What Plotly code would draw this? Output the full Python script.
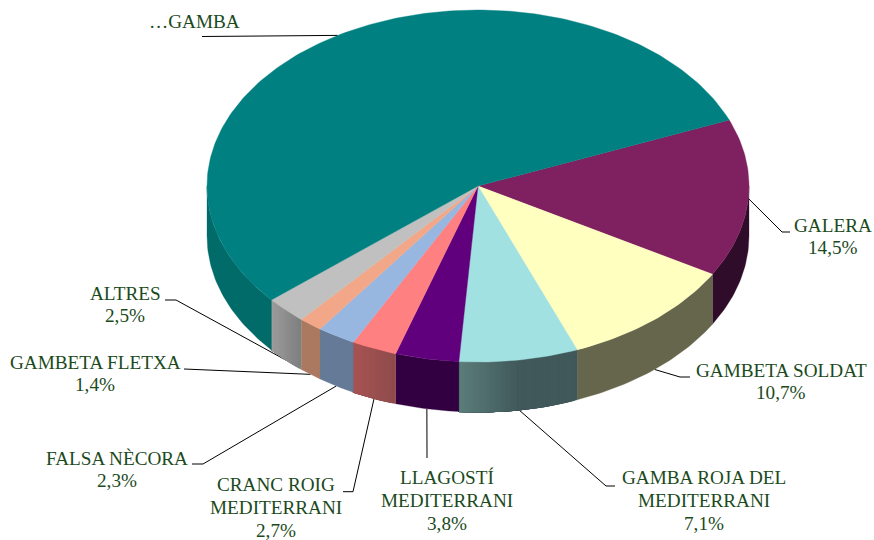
import math
import plotly.graph_objects as go

categories = [["GALERA"], ["GAMBETA SOLDAT"], ["GAMBA ROJA DEL", "MEDITERRANI"], ["LLAGOSTÍ", "MEDITERRANI"],
              ["CRANC ROIG", "MEDITERRANI"], ["FALSA NÈCORA"], ["GAMBETA FLETXA"], ["ALTRES"], ["…GAMBA"]]
values = [14.5, 10.7, 7.1, 3.8, 2.7, 2.3, 1.4, 2.5, 55.2]
value_labels = ["14,5%", "10,7%", "7,1%", "3,8%", "2,7%", "2,3%", "1,4%", "2,5%", ""]

top_colors = ["#7F2060", "#FFFFC0", "#A2E1E1", "#60007C", "#FF8080", "#97B7E1", "#F2A888", "#C0C0C0", "#008080"]
side_stops = [["#300C2B"], ["#66664C"], ["#5B7D7A", "#41595B", "#41595B"], ["#320040"],
              ["#A85353", "#8F4C4C"], ["#647A96"], ["#AB7860"], ["#9C9C9C", "#808080"], ["#006B68"]]

label_pos = [(833, 236.5), (781, 381.5), (704, 500.5), (447, 500.5), (276, 507.5), (117, 469.5), (95, 373.5),
             (125, 304.5), (194, 21.5)]
elbows = [[(782, 232), (790, 232)], [(680, 377), (690, 377)], [(606, 486), (615, 486)], [(427, 458)],
          [(353, 491.7), (343, 491.7)], [(203, 464), (192, 464)], [(184, 369)], [(176, 300), (165, 300)], [(202, 36.5)]]
leader_on_side = [False, True, True, True, True, True, True, True, False]

CX, CY, RX, RY, DEPTH = 478, 186, 271, 176, 50
START_ANGLE = 68.0
TEXT_COLOR = "#1B4A1C"
LINE_GAP = 22.7


def rim(a, dy=0):
    r = math.radians(a)
    return CX + RX * math.sin(r), CY - RY * math.cos(r) + dy


def arc(a0, a1, dy=0, step=1.0):
    n = max(2, int(abs(a1 - a0) / step) + 1)
    return [rim(a0 + (a1 - a0) * i / (n - 1), dy) for i in range(n)]


def hex2rgb(c):
    return [int(c[i:i + 2], 16) for i in (1, 3, 5)]


def mix(stops, t):
    if len(stops) == 1:
        return stops[0]
    p = t * (len(stops) - 1)
    i = min(int(p), len(stops) - 2)
    f = p - i
    a, b = hex2rgb(stops[i]), hex2rgb(stops[i + 1])
    return "rgb(%d,%d,%d)" % tuple(round(a[k] + (b[k] - a[k]) * f) for k in range(3))


def poly(pts, color, lw=0.6):
    xs = [p[0] for p in pts] + [pts[0][0]]
    ys = [p[1] for p in pts] + [pts[0][1]]
    return go.Scatter(x=xs, y=ys, mode="lines", fill="toself", fillcolor=color,
                      line=dict(color=color, width=lw), hoverinfo="skip", showlegend=False)


total = sum(values)
spans, a = [], START_ANGLE
for v in values:
    spans.append((a, a + v / total * 360))
    a += v / total * 360

fig = go.Figure()

# leader lines sit underneath the pie
for i, (a0, a1) in enumerate(spans):
    sx, sy = rim((a0 + a1) / 2, DEPTH if leader_on_side[i] else 0)
    pts = [(sx, sy)] + elbows[i]
    fig.add_trace(go.Scatter(x=[p[0] for p in pts], y=[p[1] for p in pts], mode="lines",
                             line=dict(color="#000000", width=1), hoverinfo="skip", showlegend=False))

# side walls: gradient steps overpaint one another so no seams can show
for i, (a0, a1) in enumerate(spans):
    lo, hi = max(a0, 90), min(a1, 270)
    if lo >= hi:
        continue
    stops = side_stops[i]
    n = 1 if len(stops) == 1 else int((hi - lo) * 2)
    for k in range(n):
        b0 = lo + (hi - lo) * k / n
        t = (n - 1 - k) / max(n - 1, 1)  # light on the screen-left edge
        pts = arc(b0, hi) + arc(hi, b0, DEPTH)
        fig.add_trace(poly(pts, mix(stops, t), 0.3))

# top faces
for i, (a0, a1) in enumerate(spans):
    fig.add_trace(poly([(CX, CY)] + arc(a0, a1), top_colors[i], 0.4))

# each text line is placed on its own so the line spacing can be kept tight
for i, name_lines in enumerate(categories):
    lines = name_lines + ([value_labels[i]] if value_labels[i] else [])
    for j, line in enumerate(lines):
        y = label_pos[i][1] + (j - (len(lines) - 1) / 2) * LINE_GAP
        fig.add_annotation(x=label_pos[i][0], y=y, text=line, showarrow=False,
                           xanchor="center", yanchor="middle", align="center",
                           font=dict(family="Liberation Serif", size=19.2, color=TEXT_COLOR))

fig.update_layout(width=874, height=540, margin=dict(l=0, r=0, t=0, b=0),
                  paper_bgcolor="white", plot_bgcolor="white", showlegend=False,
                  xaxis=dict(range=[0, 874], visible=False, fixedrange=True),
                  yaxis=dict(range=[540, 0], visible=False, fixedrange=True))
fig.write_html("out.html", config={"displayModeBar": False},
               post_script="document.body.style.margin='0';document.documentElement.style.overflow='hidden';")
